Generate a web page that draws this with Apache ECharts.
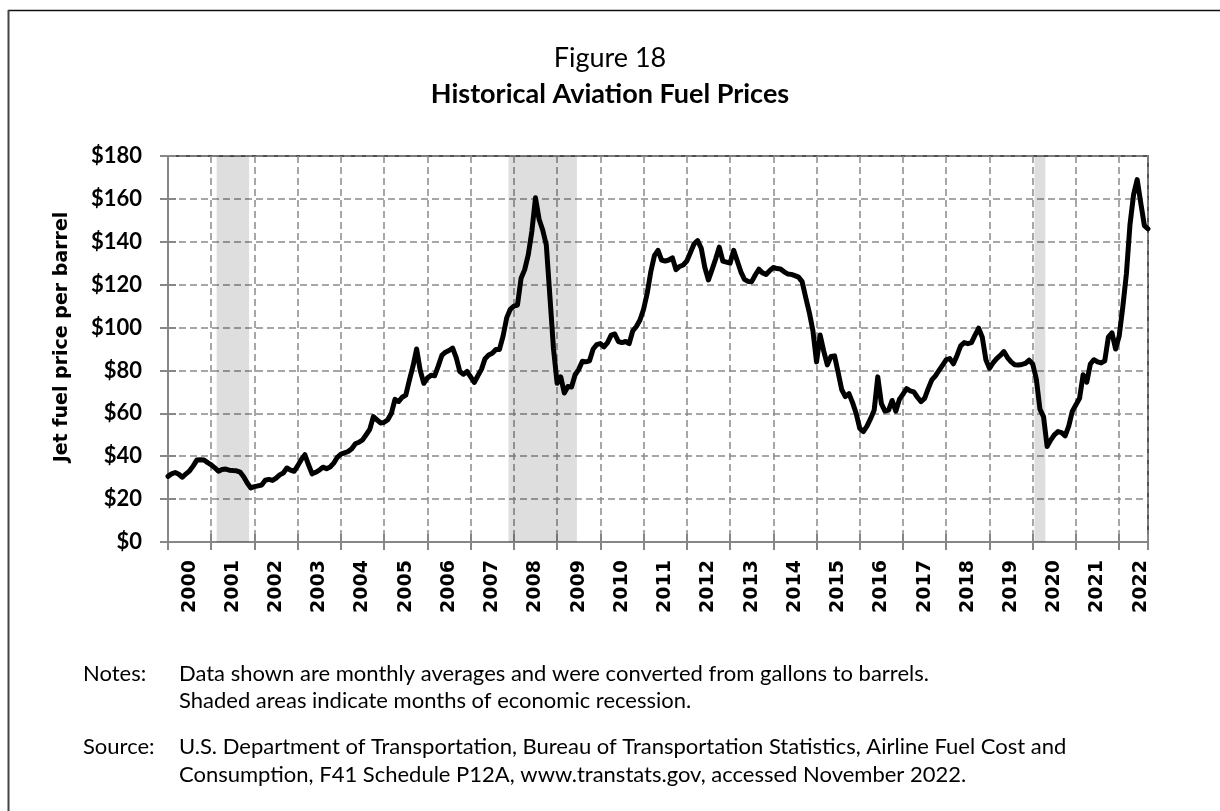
<!DOCTYPE html>
<html>
<head>
<meta charset="utf-8">
<title>Figure 18 - Historical Aviation Fuel Prices</title>
<script src="https://cdn.jsdelivr.net/npm/echarts@6/dist/echarts.min.js"></script>
<style>
  html, body { margin: 0; padding: 0; background: #fff; }
  #chart { width: 1220px; height: 811px; }
</style>
</head>
<body>
<div id="chart"></div>
<script>
  // x axis: one point per month, Jan 2000 = 0
  const firstYear = 2000;
  const yearLabels = ['2000','2001','2002','2003','2004','2005','2006','2007','2008','2009','2010',
    '2011','2012','2013','2014','2015','2016','2017','2018','2019','2020','2021','2022'];

  // jet fuel price per barrel, monthly averages (Jan 2000 - Sep 2022)
  const jetFuelPrice = [
    30.6, 31.8, 32.4, 31.6, 30.2, 31.8, 33.2, 35.5, 38.2, 38.4, 38.2, 37.0,   // 2000
    36.0, 34.6, 33.0, 33.8, 34.0, 33.5, 33.3, 33.2, 32.6, 30.4, 27.5, 25.2,   // 2001
    25.8, 26.2, 26.6, 28.8, 29.2, 28.7, 29.8, 31.3, 32.2, 34.5, 33.5, 33.0,   // 2002
    35.5, 38.5, 40.7, 36.0, 31.8, 32.5, 33.5, 34.9, 34.2, 35.0, 36.8, 39.5,   // 2003
    41.0, 41.6, 42.2, 43.5, 45.8, 46.5, 47.6, 50.0, 52.5, 58.5, 57.0, 55.5,   // 2004
    55.8, 57.0, 60.0, 66.5, 65.5, 67.5, 68.5, 75.5, 82.0, 90.0, 80.0, 74.0,   // 2005
    76.5, 77.8, 77.5, 82.0, 87.0, 88.5, 89.3, 90.4, 86.0, 79.5, 78.2, 79.5,   // 2006
    77.0, 74.4, 77.5, 80.5, 85.5, 87.2, 88.0, 89.8, 89.8, 96.0, 104.5, 108.5, // 2007
    110.0, 110.5, 123.0, 127.0, 134.0, 145.0, 160.5, 150.5, 145.5, 138.5, 114.5, 90.0, // 2008
    74.0, 77.0, 69.5, 72.5, 72.3, 78.0, 80.5, 84.3, 84.0, 84.5, 90.0, 92.0,   // 2009
    92.5, 91.0, 93.0, 96.5, 97.0, 93.5, 93.0, 93.5, 92.5, 98.5, 100.5, 103.5, // 2010
    108.5, 116.0, 126.0, 133.5, 136.0, 131.5, 131.0, 131.5, 132.5, 127.0, 128.5, 129.2, // 2011
    131.0, 135.0, 139.0, 140.5, 137.0, 128.0, 122.2, 127.0, 132.0, 137.5, 131.0, 130.5, // 2012
    130.0, 136.0, 131.0, 126.0, 122.5, 121.5, 121.4, 124.5, 127.2, 125.5, 124.8, 126.5, // 2013
    128.0, 127.5, 127.3, 126.0, 125.0, 124.8, 124.2, 123.5, 121.4, 114.0, 107.0, 98.5,  // 2014
    84.0, 96.5, 89.0, 82.6, 86.5, 86.8, 79.0, 71.0, 67.8, 69.2, 65.0, 60.0,   // 2015
    53.0, 51.5, 54.0, 57.5, 61.5, 77.0, 64.5, 61.0, 61.5, 66.0, 61.0, 66.5,   // 2016
    69.0, 71.5, 70.5, 70.0, 67.5, 65.5, 67.0, 71.5, 75.6, 77.5, 80.0, 82.5,   // 2017
    85.0, 85.5, 83.1, 87.0, 91.5, 93.0, 92.5, 93.0, 96.5, 99.7, 95.5, 85.0,   // 2018
    81.0, 83.5, 85.5, 87.0, 88.8, 86.0, 84.0, 82.7, 82.5, 82.8, 83.3, 84.8,   // 2019
    83.0, 76.0, 62.0, 58.5, 44.5, 47.5, 50.0, 51.5, 51.0, 49.5, 54.0, 61.0,   // 2020
    64.0, 67.0, 78.0, 74.5, 83.0, 85.0, 84.0, 83.5, 84.5, 95.5, 97.5, 90.0,   // 2021
    96.0, 109.5, 125.0, 148.0, 162.0, 169.0, 158.0, 147.5, 146.0              // 2022
  ];

  // recessions (first and last month, inclusive)
  const recessions = [['2001-03', '2001-11'], ['2007-12', '2009-06'], ['2020-02', '2020-04']];

  const notesLines = [
    'Data shown are monthly averages and were converted from gallons to barrels.',
    'Shaded areas indicate months of economic recession.'
  ];
  const sourceLines = [
    'U.S. Department of Transportation, Bureau of Transportation Statistics, Airline Fuel Cost and',
    'Consumption, F41 Schedule P12A, www.transtats.gov, accessed November 2022.'
  ];

  const lastMonth = jetFuelPrice.length - 1;
  const monthIndex = (s) => {
    const [y, m] = s.split('-').map(Number);
    return (y - firstYear) * 12 + (m - 1);
  };

  const gridColor = '#8a8a8a';
  const axisColor = '#868686';
  const textFont = 'Lato, "Open Sans", sans-serif';

  function textLine(text, x, y) {
    return {
      type: 'text', x: x, y: y, silent: true,
      style: { text: text, fill: '#000', verticalAlign: 'middle', font: '22px ' + textFont }
    };
  }

  function initChartOption() {
    return {
      animation: false,
      backgroundColor: '#fff',
      title: [
        {
          text: 'Figure 18', left: 'center', top: 45, padding: 0,
          textStyle: { fontFamily: textFont, fontWeight: 'normal', fontSize: 27, color: '#000' }
        },
        {
          text: 'Historical Aviation Fuel Prices', left: 'center', top: 81, padding: 0,
          textStyle: { fontFamily: textFont, fontWeight: 'bold', fontSize: 27, color: '#000' }
        }
      ],
      grid: {
        left: 168, right: 72, top: 156, bottom: 269,
        show: true, borderColor: '#1a1a1a', borderWidth: 1.5, backgroundColor: 'transparent'
      },
      xAxis: [
        {
          type: 'value', min: 0, max: lastMonth, interval: 12, position: 'bottom',
          axisLine: { show: true, onZero: false, lineStyle: { color: axisColor, width: 2 } },
          axisTick: { show: true, length: 8, lineStyle: { color: axisColor, width: 2 } },
          splitLine: { show: true, lineStyle: { color: gridColor, width: 1.5, type: [7, 4] } },
          axisLabel: {
            customValues: yearLabels.map((y, i) => i * 12 + 6),
            formatter: (v) => yearLabels[Math.round((v - 6) / 12)],
            rotate: 90, margin: 18, color: '#000',
            fontFamily: '"DejaVu Sans", Verdana, sans-serif', fontWeight: 'bold', fontSize: 19
          }
        },
        {
          // inner half of the crossing ticks
          type: 'value', min: 0, max: lastMonth, interval: 12, position: 'bottom',
          axisLine: { show: false },
          axisTick: { show: true, inside: true, length: 8, lineStyle: { color: axisColor, width: 2 } },
          splitLine: { show: false },
          axisLabel: { show: false }
        }
      ],
      yAxis: [
        {
          type: 'value', min: 0, max: 180, interval: 20,
          name: 'Jet fuel price per barrel', nameLocation: 'middle', nameGap: 96,
          nameTextStyle: {
            fontFamily: '"DejaVu Sans", Verdana, sans-serif', fontWeight: 'bold', fontSize: 19,
            color: '#000', padding: [0, 0, 0, 24]
          },
          axisLine: { show: true, lineStyle: { color: axisColor, width: 2 } },
          axisTick: { show: true, length: 8, lineStyle: { color: axisColor, width: 2 } },
          splitLine: { show: true, lineStyle: { color: gridColor, width: 1.5, type: [7, 4] } },
          axisLabel: {
            formatter: (v) => '$' + v, margin: 26, color: '#000',
            fontFamily: textFont, fontWeight: 'bold', fontSize: 22
          }
        },
        {
          type: 'value', min: 0, max: 180, interval: 20, position: 'left',
          axisLine: { show: false },
          axisTick: { show: true, inside: true, length: 8, lineStyle: { color: axisColor, width: 2 } },
          splitLine: { show: false },
          axisLabel: { show: false }
        }
      ],
      series: [
        {
          name: 'Jet fuel price', type: 'line', xAxisIndex: 0, yAxisIndex: 0,
          data: jetFuelPrice.map((v, i) => [i, v]),
          showSymbol: false, smooth: false, z: 5,
          lineStyle: { color: '#000', width: 5, join: 'round', cap: 'round' },
          markArea: {
            silent: true,
            itemStyle: { color: 'rgba(0,0,0,0.13)' },
            data: recessions.map(([a, b]) => [{ xAxis: monthIndex(a) - 0.5 }, { xAxis: monthIndex(b) + 0.5 }])
          }
        }
      ],
      graphic: [
        { type: 'line', silent: true, shape: { x1: 8, y1: 10.5, x2: 1220, y2: 10.5 }, style: { stroke: '#111', lineWidth: 1.5 } },
        { type: 'line', silent: true, shape: { x1: 8.5, y1: 10, x2: 8.5, y2: 811 }, style: { stroke: '#444', lineWidth: 2 } },
        textLine('Notes:', 83, 674),
        textLine(notesLines[0], 179, 674),
        textLine(notesLines[1], 179, 701),
        textLine('Source:', 83, 747),
        textLine(sourceLines[0], 179, 747),
        textLine(sourceLines[1], 179, 775)
      ]
    };
  }

  const chart = echarts.init(document.getElementById('chart'), null, { renderer: 'canvas' });
  chart.setOption(initChartOption());
</script>
</body>
</html>
